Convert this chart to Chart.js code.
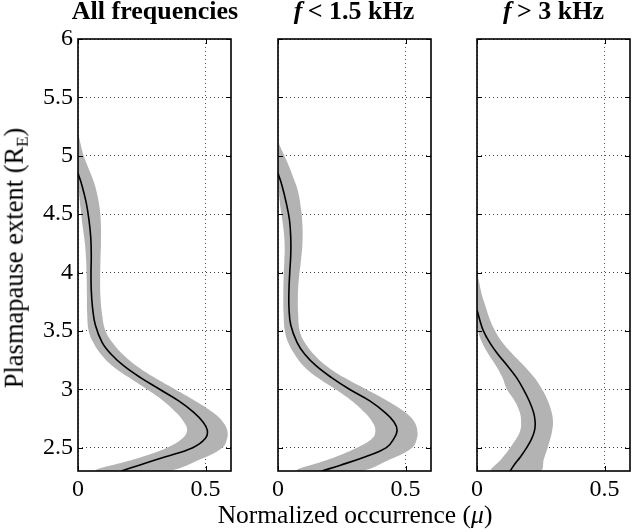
<!DOCTYPE html>
<html><head><meta charset="utf-8">
<script src="https://cdn.jsdelivr.net/npm/chart.js@4/dist/chart.umd.min.js"></script>
<style>
html,body{margin:0;padding:0;background:#fff;}
#wrap{position:relative;width:632px;height:532px;overflow:hidden;font-family:"Liberation Serif","Times New Roman",serif;color:#000;}
canvas{position:absolute;top:0;}
.t{position:absolute;white-space:nowrap;line-height:1;transform:translateX(-50%);}
.title{font-weight:bold;font-size:26px;top:-2px;}
.xt{font-size:25.5px;top:502px;left:355px;}
.yt{font-size:26.5px;position:absolute;white-space:nowrap;line-height:1;left:14px;top:258px;transform:translate(-50%,-50%) rotate(-90deg);}
sub{font-size:17px;vertical-align:-5px;line-height:0;}
</style></head>
<body><div id="wrap">
<canvas id="c0" width="240" height="532" style="left:0px"></canvas>
<canvas id="c1" width="190" height="532" style="left:250px"></canvas>
<canvas id="c2" width="183" height="532" style="left:449px"></canvas>
<div class="t title" style="left:155px">All frequencies</div>
<div class="t title" style="left:354px"><i>f</i>&thinsp;&lt; 1.5 kHz</div>
<div class="t title" style="left:553.5px"><i>f</i>&thinsp;&gt; 3 kHz</div>
<div class="t xt">Normalized occurrence (<i>μ</i>)</div>
<div class="yt">Plasmapause extent (R<sub>E</sub>)</div>
</div>
<script>
const yTicks = [2.5, 3, 3.5, 4, 4.5, 5, 5.5, 6];
const xTicks = [0, 0.5];

// Panel 1: All frequencies
const allMeanY = [4.85, 4.75, 4.6, 4.45, 4.3, 4.15, 4.0, 3.85, 3.7, 3.55, 3.4, 3.3, 3.2, 3.1, 3.0, 2.9, 2.8, 2.72, 2.65, 2.58, 2.5, 2.42, 2.35, 2.3];
const allMeanX = [0.0, 0.015, 0.032, 0.043, 0.05, 0.052, 0.051, 0.052, 0.057, 0.068, 0.095, 0.13, 0.18, 0.245, 0.32, 0.395, 0.455, 0.49, 0.507, 0.5, 0.45, 0.34, 0.24, 0.17];
const allBandY = [5.2, 5.1, 5.0, 4.9, 4.8, 4.7, 4.55, 4.4, 4.25, 4.1, 3.95, 3.8, 3.65, 3.5, 3.4, 3.3, 3.2, 3.1, 3.0, 2.9, 2.8, 2.72, 2.65, 2.58, 2.5, 2.4, 2.3];
const allBandLo = [0, 0, 0, 0, 0, 0.003, 0.01, 0.018, 0.027, 0.032, 0.034, 0.035, 0.036, 0.042, 0.06, 0.09, 0.135, 0.2, 0.27, 0.335, 0.385, 0.415, 0.428, 0.41, 0.35, 0.22, 0.07];
const allBandHi = [0, 0.01, 0.022, 0.04, 0.058, 0.072, 0.085, 0.09, 0.09, 0.088, 0.087, 0.088, 0.094, 0.108, 0.135, 0.175, 0.23, 0.3, 0.38, 0.46, 0.53, 0.568, 0.585, 0.585, 0.566, 0.48, 0.35];

// Panel 2: f < 1.5 kHz
const lowMeanY = [4.85, 4.75, 4.6, 4.45, 4.3, 4.15, 4.0, 3.85, 3.7, 3.55, 3.4, 3.3, 3.2, 3.1, 3.0, 2.9, 2.8, 2.72, 2.65, 2.58, 2.5, 2.42, 2.35, 2.3];
const lowMeanX = [0.0, 0.015, 0.032, 0.045, 0.05, 0.05, 0.046, 0.043, 0.043, 0.05, 0.075, 0.105, 0.15, 0.21, 0.28, 0.36, 0.42, 0.455, 0.467, 0.455, 0.425, 0.34, 0.245, 0.172];
const lowBandY = [5.12, 5.0, 4.9, 4.8, 4.7, 4.55, 4.4, 4.25, 4.1, 3.95, 3.8, 3.65, 3.5, 3.4, 3.3, 3.2, 3.1, 3.0, 2.9, 2.8, 2.72, 2.65, 2.58, 2.5, 2.4, 2.3];
const lowBandLo = [0, 0, 0, 0, 0.003, 0.01, 0.02, 0.026, 0.025, 0.022, 0.021, 0.022, 0.027, 0.04, 0.065, 0.1, 0.155, 0.225, 0.29, 0.34, 0.37, 0.382, 0.37, 0.31, 0.2, 0.074];
const lowBandHi = [0, 0.025, 0.045, 0.062, 0.078, 0.09, 0.096, 0.096, 0.09, 0.082, 0.078, 0.079, 0.085, 0.105, 0.14, 0.19, 0.26, 0.345, 0.43, 0.5, 0.535, 0.546, 0.545, 0.526, 0.44, 0.323];

// Panel 3: f > 3 kHz
const highMeanY = [3.68, 3.6, 3.5, 3.4, 3.3, 3.2, 3.1, 3.0, 2.9, 2.8, 2.72, 2.65, 2.58, 2.5, 2.42, 2.35, 2.3];
const highMeanX = [0.0, 0.01, 0.025, 0.05, 0.082, 0.12, 0.155, 0.182, 0.205, 0.222, 0.228, 0.226, 0.215, 0.195, 0.17, 0.145, 0.13];
const highBandY = [4.0, 3.9, 3.8, 3.7, 3.6, 3.5, 3.4, 3.3, 3.2, 3.1, 3.0, 2.9, 2.8, 2.72, 2.65, 2.58, 2.5, 2.4, 2.3];
const highBandLo = [0, 0, 0, 0, 0, 0.005, 0.02, 0.045, 0.075, 0.1, 0.117, 0.148, 0.168, 0.173, 0.17, 0.155, 0.13, 0.095, 0.058];
const highBandHi = [0, 0.01, 0.02, 0.035, 0.05, 0.071, 0.1, 0.14, 0.185, 0.225, 0.255, 0.278, 0.293, 0.298, 0.295, 0.288, 0.277, 0.262, 0.248];

const FONT = "'Liberation Serif', 'Times New Roman', serif";
Chart.defaults.font.family = FONT;
Chart.defaults.color = '#000';

const framePlugin = {
  id: 'frame',
  afterDatasetsDraw(chart) {
    const {ctx, chartArea: a, scales} = chart;
    ctx.save();
    ctx.strokeStyle = '#000';
    ctx.lineWidth = 1;
    const L = 5;
    scales.y.ticks.forEach(t => {
      const py = Math.round(scales.y.getPixelForValue(t.value)) + 0.5;
      ctx.beginPath();
      ctx.moveTo(a.left, py); ctx.lineTo(a.left + L, py);
      ctx.moveTo(a.right, py); ctx.lineTo(a.right - L, py);
      ctx.stroke();
    });
    scales.x.ticks.forEach(t => {
      const px = Math.round(scales.x.getPixelForValue(t.value)) + 0.5;
      ctx.beginPath();
      ctx.moveTo(px, a.bottom); ctx.lineTo(px, a.bottom - L);
      ctx.moveTo(px, a.top); ctx.lineTo(px, a.top + L);
      ctx.stroke();
    });
    ctx.lineWidth = 1.6;
    ctx.strokeRect(a.left, a.top, a.right - a.left, a.bottom - a.top);
    ctx.restore();
  }
};

function makePanel(id, meanY, meanX, bandY, bandLo, bandHi, yWidth, padRight, showY) {
  const band = [];
  for (let i = 0; i < bandY.length; i++) band.push({x: bandLo[i], y: bandY[i]});
  for (let i = bandY.length - 1; i >= 1; i--) band.push({x: bandHi[i], y: bandY[i]});
  const mean = meanY.map((y, i) => ({x: meanX[i], y: y}));
  return new Chart(document.getElementById(id), {
    type: 'line',
    data: {datasets: [
      {data: band, fill: 'shape', backgroundColor: '#b3b3b3', borderColor: 'rgba(0,0,0,0)', borderWidth: 0, pointRadius: 0, tension: 0.4, order: 2},
      {data: mean, fill: false, borderColor: '#000', borderWidth: 1.6, pointRadius: 0, tension: 0.4, order: 1}
    ]},
    options: {
      responsive: false, animation: false, events: [],
      layout: {padding: {top: 39, right: padRight, bottom: 0, left: 0}},
      plugins: {legend: {display: false}, tooltip: {enabled: false}},
      scales: {
        x: {
          type: 'linear', min: 0, max: 0.6,
          afterBuildTicks: s => { s.ticks = xTicks.map(v => ({value: v})); },
          afterFit: s => { s.height = 61; },
          ticks: {font: {family: FONT, size: 24}, color: '#000', padding: 4, maxRotation: 0, autoSkip: false, callback: v => String(v)},
          grid: {color: '#555', lineWidth: 1, drawTicks: false},
          border: {display: false, dash: [1, 3]}
        },
        y: {
          type: 'linear', min: 2.3, max: 6,
          afterBuildTicks: s => { s.ticks = yTicks.map(v => ({value: v})); },
          afterFit: s => { s.width = yWidth; },
          ticks: {display: showY, font: {family: FONT, size: 24}, color: '#000', padding: 5, autoSkip: false, callback: v => String(v)},
          grid: {color: '#444', lineWidth: 1, drawTicks: false},
          border: {display: false, dash: [1, 3]}
        }
      }
    },
    plugins: [framePlugin]
  });
}

makePanel('c0', allMeanY, allMeanX, allBandY, allBandLo, allBandHi, 78, 9, true);
makePanel('c1', lowMeanY, lowMeanX, lowBandY, lowBandLo, lowBandHi, 28, 9, false);
makePanel('c2', highMeanY, highMeanX, highBandY, highBandLo, highBandHi, 28, 2, false);
</script>
</body></html>
